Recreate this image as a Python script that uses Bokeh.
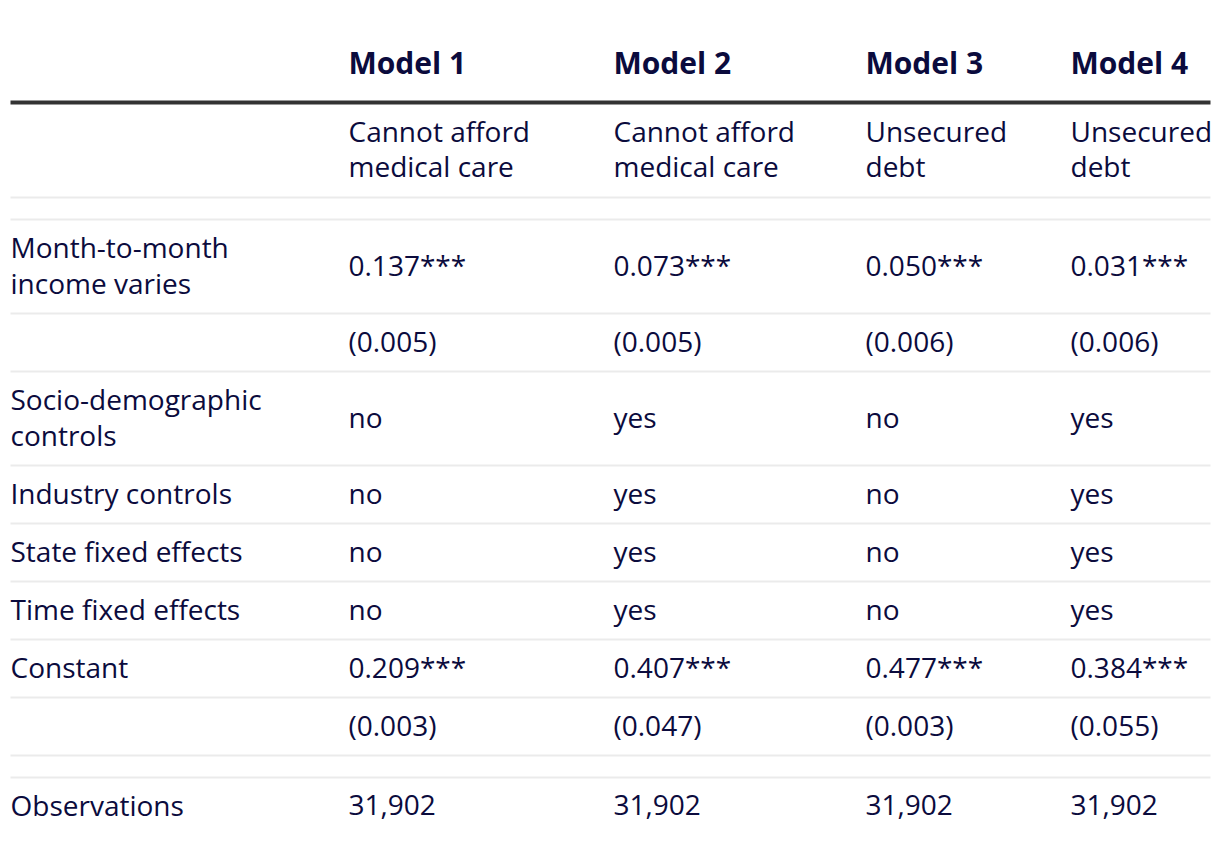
from bokeh.plotting import figure
from bokeh.embed import file_html
from bokeh.resources import INLINE
from bokeh.core.properties import value
from bokeh.models import ColumnDataSource

# ---------------- data ----------------
models = ["Model 1", "Model 2", "Model 3", "Model 4"]
dependent = [["Cannot afford", "medical care"], ["Cannot afford", "medical care"],
             ["Unsecured", "debt"], ["Unsecured", "debt"]]
row_labels = [["Month-to-month", "income varies"], [""], ["Socio-demographic", "controls"],
              ["Industry controls"], ["State fixed effects"], ["Time fixed effects"],
              ["Constant"], [""]]
income_coef = ["0.137***", "0.073***", "0.050***", "0.031***"]
income_se = ["(0.005)", "(0.005)", "(0.006)", "(0.006)"]
socio = ["no", "yes", "no", "yes"]
industry = ["no", "yes", "no", "yes"]
state_fe = ["no", "yes", "no", "yes"]
time_fe = ["no", "yes", "no", "yes"]
const_coef = ["0.209***", "0.407***", "0.477***", "0.384***"]
const_se = ["(0.003)", "(0.047)", "(0.003)", "(0.055)"]
obs_label = "Observations"
observations = ["31,902", "31,902", "31,902", "31,902"]

body_values = [income_coef, income_se, socio, industry, state_fe, time_fe, const_coef, const_se]

# ---------------- layout (pixels) ----------------
W, H = 1220, 836
DY = -2  # text vertical nudge
col_x = [348, 613, 865, 1070]
label_x = 10
line_x0, line_x1 = 10, 1210
header_y = 64 + DY
thick_y = 102
dep_y = [132 + DY, 167 + DY]
body_bounds = [219, 313, 371, 465, 523, 581, 639, 697, 755]
thin_lines = [197, 219, 313, 371, 465, 523, 581, 639, 697, 755, 777]
obs_y = 806 + DY
line_gap = 36

TEXT = "#0b0b3d"
FONT = "Open Sans"
BODY_SIZE = "28px"
HEAD_SIZE = "30px"

p = figure(width=W, height=H, x_range=(0, W), y_range=(H, 0),
           output_backend="svg", toolbar_location=None, min_border=0)
p.axis.visible = False
p.grid.visible = False
p.outline_line_color = None
p.background_fill_color = "white"
p.border_fill_color = "white"

xs, ys, ts = [], [], []
def add(x, y, t):
    xs.append(x); ys.append(y); ts.append(t)

# header
hs = ColumnDataSource(dict(x=col_x, y=[header_y] * 4, t=models))
p.text("x", "y", "t", source=hs, text_font=value(FONT), text_font_size=HEAD_SIZE,
       text_font_style="bold", text_color=TEXT, text_baseline="middle", text_align="left")

# dependent variables
for i, dv in enumerate(dependent):
    for j, line in enumerate(dv):
        add(col_x[i], dep_y[j], line)

# body rows
for r, (lab, vals) in enumerate(zip(row_labels, body_values)):
    top = body_bounds[r]
    bot = body_bounds[r + 1]
    mid = (top + bot) / 2 + DY
    n = len(lab)
    for k, l in enumerate(lab):
        if l:
            add(label_x, mid + (k - (n - 1) / 2) * line_gap, l)
    for i, v in enumerate(vals):
        add(col_x[i], mid, v)

# observations
add(label_x, obs_y, obs_label)
for i, v in enumerate(observations):
    add(col_x[i], obs_y, v)

src = ColumnDataSource(dict(x=xs, y=ys, t=ts))
p.text("x", "y", "t", source=src, text_font=value(FONT), text_font_size=BODY_SIZE,
       text_color=TEXT, text_baseline="middle", text_align="left")

# rules
p.segment(x0=[line_x0] * len(thin_lines), x1=[line_x1] * len(thin_lines),
          y0=thin_lines, y1=thin_lines, line_color="#ebebeb", line_width=2)
p.segment(x0=[line_x0], x1=[line_x1], y0=[thick_y], y1=[thick_y],
          line_color="#333333", line_width=4)

open("out.html", "w").write(file_html(p, INLINE))
